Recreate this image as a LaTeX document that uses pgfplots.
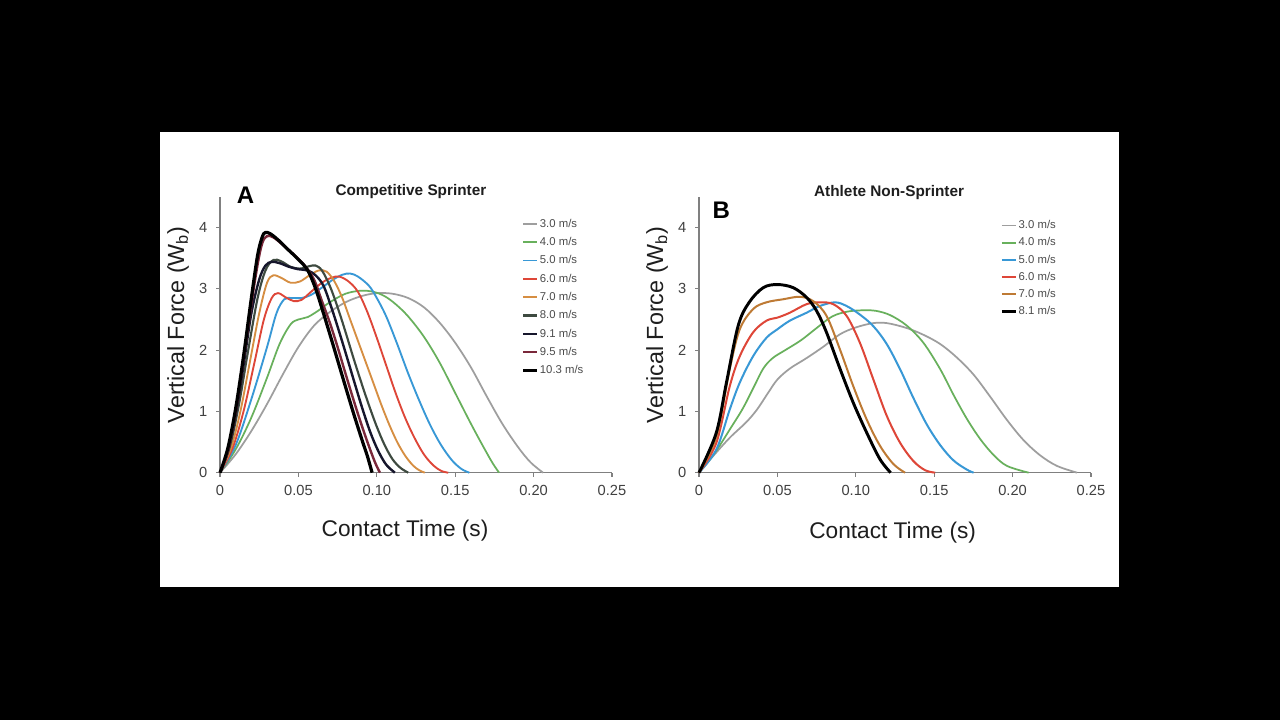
\documentclass[border=0pt]{standalone}
\usepackage{fontspec}
\setmainfont{Liberation Sans}
\usepackage{pgfplots}
\pgfplotsset{compat=1.18}

\definecolor{c3}{RGB}{158,158,158}
\definecolor{c4}{RGB}{104,176,92}
\definecolor{c5}{RGB}{56,152,214}
\definecolor{c6}{RGB}{222,70,56}
\definecolor{c7}{RGB}{214,142,66}
\definecolor{c7b}{RGB}{190,122,52}
\definecolor{c8}{RGB}{62,74,64}
\definecolor{c91}{RGB}{22,22,44}
\definecolor{c95}{RGB}{122,40,58}
\definecolor{axgray}{RGB}{128,128,128}
\definecolor{txt}{RGB}{30,30,30}

\pgfplotsset{
  grfaxis/.style={
    scale only axis, width=294pt, height=206.8pt,
    xmin=0, xmax=0.25, ymin=0, ymax=4.5,
    axis x line=bottom, axis y line=left,
    axis line style={-, axgray, line width=1.2pt},
    xtick={0,0.05,0.1,0.15,0.2,0.25},
    xticklabels={0,0.05,0.10,0.15,0.20,0.25},
    ytick={0,1,2,3,4},
    tick align=outside, major tick length=3pt,
    tick style={axgray, line width=0.8pt},
    ticklabel style={font=\fontsize{11}{13}\selectfont, text=txt!85},
    xticklabel style={yshift=-3pt},
    yticklabel style={xshift=-3pt},
    /pgf/number format/assume math mode=true,
    clip=false,
    every axis plot/.append style={smooth, tension=0.55, mark=none},
    legend cell align=left,
    legend image code/.code={\draw[##1] (0pt,0pt) -- (10.5pt,0pt);},
    legend style={draw=none, fill=none, anchor=north west,
      font=\fontsize{8.5}{10}\selectfont, text=txt!80,
      nodes={inner sep=1pt, text height=6pt, text depth=1pt}},
  }
}

\begin{document}
\begin{tikzpicture}[x=1pt,y=1pt]
\fill[black] (0,0) rectangle (960,540);
\fill[white] (120,99.75) rectangle (839.25,441);

% ---------- Panel A: competitive sprinter ----------
\begin{axis}[grfaxis, at={(165pt,185.5pt)}, anchor=south west,
  legend style={at={(rel axis cs:0.758,0.935)}, row sep=4.75pt}]
\addplot[c3, line width=1.3pt] coordinates {
(0,0) (0.01,0.3) (0.02,0.68) (0.03,1.12) (0.04,1.6) (0.05,2.05) (0.06,2.4)
(0.07,2.62) (0.08,2.78) (0.09,2.88) (0.1,2.93) (0.11,2.92) (0.12,2.85)
(0.13,2.7) (0.14,2.45) (0.15,2.12) (0.16,1.72) (0.17,1.25) (0.18,0.8)
(0.19,0.42) (0.198,0.17) (0.206,0)};
\addlegendentry{3.0 m/s}
\addplot[c4, line width=1.3pt] coordinates {
(0,0) (0.01,0.38) (0.02,0.9) (0.03,1.55) (0.038,2.1) (0.045,2.42) (0.05,2.5)
(0.056,2.54) (0.063,2.65) (0.07,2.78) (0.08,2.92) (0.09,2.97) (0.098,2.95)
(0.105,2.88) (0.112,2.75) (0.12,2.55) (0.13,2.22) (0.14,1.8) (0.15,1.3)
(0.16,0.8) (0.168,0.42) (0.174,0.15) (0.178,0)};
\addlegendentry{4.0 m/s}
\addplot[c5, line width=1.4pt] coordinates {
(0,0) (0.01,0.45) (0.02,1.2) (0.03,2.05) (0.036,2.6) (0.041,2.83) (0.046,2.85)
(0.052,2.85) (0.058,2.9) (0.065,3.02) (0.072,3.15) (0.078,3.23) (0.083,3.25)
(0.088,3.2) (0.095,3.05) (0.1,2.85) (0.106,2.55) (0.113,2.1) (0.12,1.62)
(0.127,1.18) (0.134,0.78) (0.141,0.45) (0.148,0.2) (0.154,0.06) (0.159,0)};
\addlegendentry{5.0 m/s}
\addplot[c6, line width=1.4pt] coordinates {
(0,0) (0.008,0.4) (0.015,1.0) (0.022,1.8) (0.028,2.5) (0.033,2.85) (0.037,2.93)
(0.042,2.86) (0.047,2.8) (0.052,2.82) (0.058,2.95) (0.065,3.1) (0.071,3.18)
(0.076,3.2) (0.082,3.12) (0.088,2.95) (0.094,2.62) (0.1,2.2) (0.106,1.75)
(0.112,1.3) (0.118,0.9) (0.124,0.57) (0.13,0.3) (0.136,0.12) (0.141,0.03)
(0.1455,0)};
\addlegendentry{6.0 m/s}
\addplot[c7, line width=1.4pt] coordinates {
(0,0) (0.007,0.4) (0.013,1.0) (0.019,1.8) (0.025,2.6) (0.03,3.1) (0.034,3.22)
(0.039,3.18) (0.045,3.1) (0.051,3.12) (0.057,3.22) (0.063,3.3) (0.068,3.28)
(0.073,3.12) (0.078,2.85) (0.083,2.5) (0.088,2.15) (0.093,1.8) (0.098,1.45)
(0.103,1.1) (0.108,0.78) (0.113,0.5) (0.118,0.28) (0.123,0.12) (0.127,0.04)
(0.1306,0)};
\addlegendentry{7.0 m/s}
\addplot[c8, line width=1.6pt] coordinates {
(0,0) (0.006,0.4) (0.012,1.1) (0.018,2.0) (0.024,2.85) (0.029,3.3) (0.034,3.47)
(0.039,3.45) (0.045,3.36) (0.051,3.33) (0.057,3.37) (0.061,3.38) (0.065,3.3)
(0.07,3.05) (0.075,2.7) (0.08,2.3) (0.085,1.88) (0.09,1.48) (0.095,1.1)
(0.1,0.75) (0.105,0.45) (0.11,0.22) (0.115,0.08) (0.12,0)};
\addlegendentry{8.0 m/s}
\addplot[c91, line width=1.8pt] coordinates {
(0,0) (0.005,0.35) (0.01,0.95) (0.015,1.75) (0.02,2.6) (0.025,3.15) (0.029,3.38)
(0.033,3.44) (0.038,3.42) (0.044,3.36) (0.05,3.32) (0.056,3.3) (0.061,3.22)
(0.066,3.05) (0.071,2.7) (0.076,2.3) (0.081,1.88) (0.086,1.45) (0.091,1.03)
(0.096,0.65) (0.101,0.35) (0.106,0.13) (0.1115,0)};
\addlegendentry{9.1 m/s}
\addplot[c95, line width=1.8pt] coordinates {
(0,0) (0.005,0.35) (0.01,1.0) (0.015,1.85) (0.02,2.75) (0.024,3.4) (0.027,3.75)
(0.03,3.86) (0.034,3.84) (0.04,3.72) (0.047,3.56) (0.054,3.38) (0.06,3.15)
(0.065,2.8) (0.07,2.45) (0.075,2.05) (0.08,1.62) (0.085,1.2) (0.09,0.8)
(0.095,0.43) (0.099,0.16) (0.102,0)};
\addlegendentry{9.5 m/s}
\addplot[black, line width=2.4pt] coordinates {
(0,0) (0.005,0.4) (0.01,1.05) (0.015,1.9) (0.02,2.85) (0.024,3.55) (0.027,3.85)
(0.029,3.92) (0.032,3.9) (0.037,3.8) (0.043,3.65) (0.05,3.48) (0.056,3.3)
(0.061,3.0) (0.066,2.6) (0.071,2.18) (0.076,1.75) (0.081,1.32) (0.086,0.9)
(0.091,0.5) (0.094,0.27) (0.097,0)};
\addlegendentry{10.3 m/s}
\node[font=\bfseries\fontsize{18}{20}\selectfont, text=black] at (rel axis cs:0.065,1.007) {A};
\node[font=\bfseries\fontsize{11.5}{13}\selectfont, text=txt] at (rel axis cs:0.487,1.018) {Competitive Sprinter};
\node[rotate=90, font=\fontsize{17.5}{20}\selectfont, text=txt] at (rel axis cs:-0.107,0.536) {Vertical Force (W\textsubscript{b})};
\node[font=\fontsize{17}{20}\selectfont, text=txt] at (rel axis cs:0.472,-0.2115) {Contact Time (s)};
\end{axis}

% ---------- Panel B: athlete non-sprinter ----------
\begin{axis}[grfaxis, at={(524.25pt,185.5pt)}, anchor=south west,
  legend style={at={(rel axis cs:0.758,0.929)}, row sep=3.9pt}]
\addplot[c3, line width=1.3pt] coordinates {
(0,0) (0.01,0.3) (0.02,0.58) (0.03,0.82) (0.037,1.03) (0.044,1.3) (0.05,1.52)
(0.058,1.7) (0.068,1.86) (0.079,2.05) (0.09,2.26) (0.1,2.37) (0.111,2.44)
(0.12,2.44) (0.1325,2.36) (0.1431,2.25) (0.1538,2.1) (0.1644,1.88)
(0.1751,1.6) (0.1857,1.24) (0.1964,0.86) (0.207,0.53) (0.2177,0.28)
(0.2283,0.11) (0.2411,0)};
\addlegendentry{3.0 m/s}
\addplot[c4, line width=1.3pt] coordinates {
(0,0) (0.01,0.32) (0.02,0.72) (0.028,1.05) (0.035,1.4) (0.041,1.7) (0.047,1.87)
(0.055,2.0) (0.065,2.16) (0.075,2.36) (0.085,2.55) (0.095,2.63) (0.105,2.65)
(0.113,2.64) (0.122,2.57) (0.1325,2.4) (0.1431,2.12) (0.1538,1.69)
(0.1623,1.27) (0.1708,0.88) (0.1793,0.55) (0.1878,0.29) (0.1964,0.11) (0.2102,0)};
\addlegendentry{4.0 m/s}
\addplot[c5, line width=1.5pt] coordinates {
(0,0) (0.0111,0.38) (0.0196,1.03) (0.026,1.47) (0.0345,1.9) (0.043,2.2)
(0.05,2.34) (0.0579,2.48) (0.0686,2.61) (0.0771,2.72) (0.0867,2.78)
(0.0941,2.72) (0.1026,2.58) (0.1112,2.39) (0.1197,2.1) (0.1282,1.69)
(0.1367,1.22) (0.1452,0.79) (0.1538,0.45) (0.1623,0.2) (0.1708,0.05) (0.1751,0)};
\addlegendentry{5.0 m/s}
\addplot[c6, line width=1.5pt] coordinates {
(0,0) (0.0111,0.49) (0.0196,1.41) (0.026,1.9) (0.0345,2.29) (0.043,2.48)
(0.05,2.53) (0.0579,2.61) (0.0686,2.75) (0.0771,2.78) (0.0856,2.75)
(0.0941,2.56) (0.1026,2.12) (0.1112,1.52) (0.1197,0.93) (0.1282,0.49)
(0.1367,0.19) (0.1442,0.04) (0.1506,0)};
\addlegendentry{6.0 m/s}
\addplot[c7b, line width=1.5pt] coordinates {
(0,0) (0.0111,0.59) (0.0196,1.69) (0.026,2.34) (0.0345,2.67) (0.043,2.78)
(0.0537,2.83) (0.0643,2.87) (0.0728,2.8) (0.0813,2.56) (0.0899,2.01)
(0.0984,1.41) (0.1069,0.87) (0.1154,0.44) (0.124,0.14) (0.1314,0)};
\addlegendentry{7.0 m/s}
\addplot[black, line width=2.2pt] coordinates {
(0,0) (0.011,0.65) (0.0175,1.47) (0.025,2.4) (0.032,2.78) (0.041,3.02)
(0.05,3.07) (0.06,3.02) (0.0686,2.86) (0.075,2.64) (0.0813,2.29) (0.09,1.69)
(0.0984,1.14) (0.107,0.65) (0.1154,0.22) (0.1222,0)};
\addlegendentry{8.1 m/s}
\node[font=\bfseries\fontsize{18}{20}\selectfont, text=black] at (rel axis cs:0.057,0.953) {B};
\node[font=\bfseries\fontsize{11.5}{13}\selectfont, text=txt] at (rel axis cs:0.485,1.0145) {Athlete Non-Sprinter};
\node[rotate=90, font=\fontsize{17.5}{20}\selectfont, text=txt] at (rel axis cs:-0.107,0.536) {Vertical Force (W\textsubscript{b})};
\node[font=\fontsize{17}{20}\selectfont, text=txt] at (rel axis cs:0.494,-0.218) {Contact Time (s)};
\end{axis}
\end{tikzpicture}
\end{document}
